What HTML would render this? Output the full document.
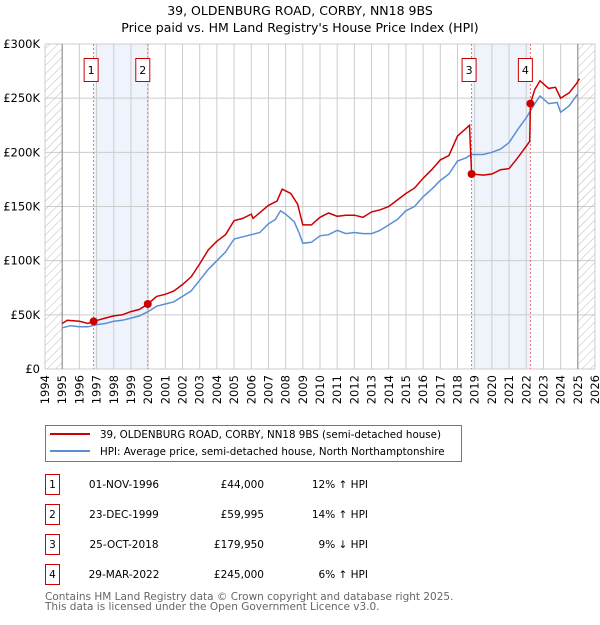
<!DOCTYPE html>
<html><head><meta charset="utf-8"><style>
body{margin:0;background:#fff;font-family:"Liberation Sans","DejaVu Sans",sans-serif;}
svg text{font-family:"DejaVu Sans","Liberation Sans",sans-serif;}
</style></head><body>
<svg id="c" width="600" height="620" viewBox="0 0 600 620" xmlns="http://www.w3.org/2000/svg">
<defs><pattern id="h" width="6" height="6" patternUnits="userSpaceOnUse" patternTransform="rotate(45)"><line x1="0" y1="0" x2="0" y2="6" stroke="#bbb" stroke-width="1"/></pattern></defs>
<text x="300" y="15" text-anchor="middle" font-size="12.5">39, OLDENBURG ROAD, CORBY, NN18 9BS</text>
<text x="300" y="32" text-anchor="middle" font-size="12.5">Price paid vs. HM Land Registry's House Price Index (HPI)</text>
<g id="plot"></g>
<g>
<rect x="45.5" y="425.5" width="416" height="36" fill="#fff" stroke="#777"/>
<line x1="50" y1="434" x2="90" y2="434" stroke="#cc0000" stroke-width="2"/>
<text x="100" y="438" font-size="10.3">39, OLDENBURG ROAD, CORBY, NN18 9BS (semi-detached house)</text>
<line x1="50" y1="451" x2="90" y2="451" stroke="#5b8fd4" stroke-width="2"/>
<text x="100" y="455" font-size="10.3">HPI: Average price, semi-detached house, North Northamptonshire</text>
</g>
<g id="tbl" font-size="10.5"></g>
<text x="45" y="600" font-size="10.5" fill="#666">Contains HM Land Registry data © Crown copyright and database right 2025.</text>
<text x="45" y="610" font-size="10.5" fill="#666">This data is licensed under the Open Government Licence v3.0.</text>
</svg>
<script>
const hpiYears=[1995,1995.5,1996,1996.5,1997,1997.5,1998,1998.5,1999,1999.5,2000,2000.5,2001,2001.5,2002,2002.5,2003,2003.5,2004,2004.5,2005,2005.5,2006,2006.5,2007,2007.4,2007.7,2008,2008.5,2008.8,2009,2009.5,2010,2010.5,2011,2011.5,2012,2012.5,2013,2013.5,2014,2014.5,2015,2015.5,2016,2016.5,2017,2017.5,2018,2018.5,2018.8,2019.5,2020,2020.5,2021,2021.5,2022,2022.5,2022.8,2023.3,2023.8,2024,2024.5,2025];
const hpiValues=[38,40,39,39,41,42,44,45,47,49,53,58,60,62,67,72,82,92,100,108,120,122,124,126,134,138,146,143,136,125,116,117,123,124,128,125,126,125,125,128,133,138,146,150,159,166,174,180,192,195,198,198,200,203,209,221,232,245,252,245,246,237,243,254];
const propYears=[1995,1995.3,1996,1996.5,1996.83,1997.5,1998,1998.5,1999,1999.5,1999.98,2000.5,2001,2001.5,2002,2002.5,2003,2003.5,2004,2004.5,2005,2005.5,2006,2006.1,2007,2007.5,2007.8,2008.3,2008.7,2009,2009.5,2010,2010.5,2011,2011.5,2012,2012.5,2013,2013.5,2014,2014.5,2015,2015.5,2016,2016.5,2017,2017.5,2018,2018.7,2018.82,2019.5,2020,2020.5,2021,2021.5,2022.2,2022.24,2022.5,2022.8,2023.3,2023.7,2024,2024.5,2024.9,2025.1];
const propValues=[42,45,44,42,44,47,49,50,53,55,60,67,69,72,78,85,97,110,118,124,137,139,143,139,151,155,166,162,152,133,133,140,144,141,142,142,140,145,147,150,156,162,167,176,184,193,197,215,225,180,179,180,184,185,195,210,245,258,266,259,260,250,255,263,268];
const saleLabels=["1","2","3","4"];
const saleYears=[1996.83,1999.98,2018.82,2022.24];
const saleValues=[44,60,180,245];
const saleDates=["01-NOV-1996","23-DEC-1999","25-OCT-2018","29-MAR-2022"];
const salePrices=["£44,000","£59,995","£179,950","£245,000"];
const saleDiffs=["12% ↑ HPI","14% ↑ HPI","9% ↓ HPI","6% ↑ HPI"];
const yTicks=[0,50,100,150,200,250,300];
const yTickLabels=["£0","£50K","£100K","£150K","£200K","£250K","£300K"];
const xMin=1994,xMax=2026,X0=45,X1=595,Y0=369,Y1=44;
const xs=v=>X0+(v-xMin)/(xMax-xMin)*(X1-X0);
const ys=v=>Y0-v/300*(Y0-Y1);
const NS="http://www.w3.org/2000/svg";
const plot=document.getElementById('plot');
function mk(tag,at,parent){const e=document.createElementNS(NS,tag);for(const k in at)e.setAttribute(k,at[k]);(parent||plot).appendChild(e);return e;}
let e;
e=mk('rect',{x:xs(saleYears[0]),y:Y1,width:xs(saleYears[1])-xs(saleYears[0]),height:Y0-Y1,fill:'#eef3fc'});


e=mk('rect',{x:xs(saleYears[2]),y:Y1,width:xs(saleYears[3])-xs(saleYears[2]),height:Y0-Y1,fill:'#eef3fc'});


for(let y=xMin;y<=xMax;y++){
 e=mk('line',{x1:xs(y),x2:xs(y),y1:Y1,y2:Y0,stroke:'#ccc','stroke-width':1});
 
 
 e=mk('text',{x:0,y:0,'text-anchor':'end','font-size':11.5,transform:'translate('+(xs(y)+4)+',375) rotate(-90)'});
 e.textContent=y;
 
 
}
yTicks.forEach((t,i)=>{
 e=mk('line',{x1:X0,x2:X1,y1:ys(t),y2:ys(t),stroke:'#ccc','stroke-width':1});
 
 
 e=mk('text',{x:40,y:ys(t)+4,'text-anchor':'end','font-size':11.5});
 e.textContent=yTickLabels[i];
 
 
});
e=mk('rect',{x:X0,y:Y1,width:xs(1995)-X0,height:Y0-Y1,fill:'url(#h)'});


e=mk('rect',{x:xs(2025),y:Y1,width:X1-xs(2025),height:Y0-Y1,fill:'url(#h)'});


e=mk('line',{x1:xs(1995),x2:xs(1995),y1:Y1,y2:Y0,stroke:'#888'});


e=mk('line',{x1:xs(2025),x2:xs(2025),y1:Y1,y2:Y0,stroke:'#888'});


saleYears.forEach((y,i)=>{
 e=mk('line',{x1:xs(y),x2:xs(y),y1:Y1,y2:Y0,stroke:'#ee5555','stroke-dasharray':'2,2','stroke-width':0.8});
 
 
 e=mk('rect',{x:xs(y)-(i==0||i==2?9.5:12),y:58.5,width:14,height:23,fill:'#fff',stroke:'#cc0000'});
 
 
 e=mk('text',{x:xs(y)-(i==0||i==2?2.5:5),y:74,'text-anchor':'middle','font-size':11});
 e.textContent=saleLabels[i];
 
 
});
const pts=(a,b)=>a.map((y,i)=>xs(y).toFixed(1)+','+ys(b[i]).toFixed(1)).join(' ');
e=mk('polyline',{points:pts(hpiYears,hpiValues),fill:'none',stroke:'#5b8fd4','stroke-width':1.5});


e=mk('polyline',{points:pts(propYears,propValues),fill:'none',stroke:'#cc0000','stroke-width':1.5});


saleYears.forEach((y,i)=>{
 e=mk('circle',{cx:xs(y),cy:ys(saleValues[i]),r:4,fill:'#cc0000'});
 
 
});
const tbl=document.getElementById('tbl');
saleLabels.forEach((l,i)=>{
 const ry=483+i*30;
 e=mk('rect',{x:45.5,y:ry-8.5,width:14,height:20,fill:'#fff',stroke:'#cc0000'},tbl);
 
 
 e=mk('text',{x:52.5,y:ry+5,'text-anchor':'middle'},tbl);e.textContent=l;
 
 
 e=mk('text',{x:124,y:ry+5,'text-anchor':'middle'},tbl);e.textContent=saleDates[i];
 
 
 e=mk('text',{x:264,y:ry+5,'text-anchor':'end'},tbl);e.textContent=salePrices[i];
 
 
 e=mk('text',{x:368,y:ry+5,'text-anchor':'end'},tbl);e.textContent=saleDiffs[i];
 
 
});
</script>
</body></html>
